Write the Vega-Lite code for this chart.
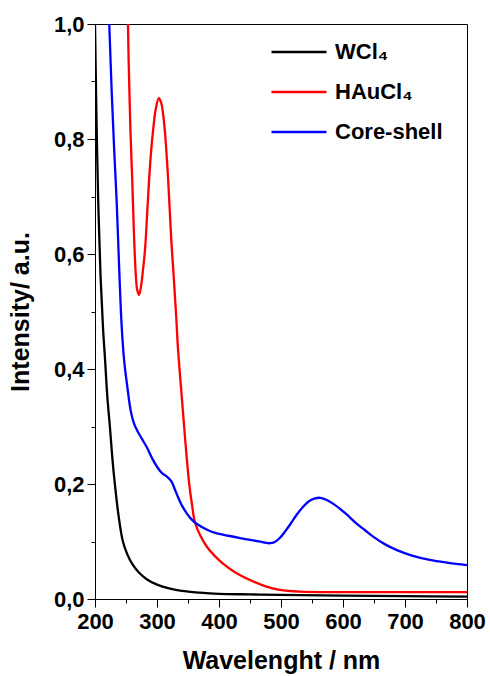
{
  "$schema": "https://vega.github.io/schema/vega-lite/v6.json",
  "width": 372,
  "height": 575,
  "autosize": {"type": "none"},
  "padding": {"left": 95, "top": 24, "right": 23, "bottom": 77},
  "background": "white",
  "config": {
    "view": {"stroke": "#000", "strokeWidth": 1},
    "font": "Liberation Sans",
    "axis": {
      "domainColor": "#000", "domainWidth": 1, "tickColor": "#000", "tickWidth": 1,
      "labelFont": "Liberation Sans", "labelFontWeight": "bold", "labelFontSize": 22, "labelColor": "#000",
      "titleFont": "Liberation Sans", "titleFontWeight": "bold", "titleFontSize": 25, "titleColor": "#000",
      "grid": false, "labelOverlap": false, "labelFlush": false, "labelBound": false
    }
  },
  "data": {"values": [
    {"w": 198, "v": 1.12, "s": "WCl₄"}, {"w": 200, "v": 1.0, "s": "WCl₄"}, {"w": 202, "v": 0.86, "s": "WCl₄"},
    {"w": 205, "v": 0.70, "s": "WCl₄"}, {"w": 209, "v": 0.56, "s": "WCl₄"}, {"w": 213, "v": 0.47, "s": "WCl₄"},
    {"w": 216, "v": 0.42, "s": "WCl₄"}, {"w": 220, "v": 0.35, "s": "WCl₄"}, {"w": 224, "v": 0.30, "s": "WCl₄"},
    {"w": 228, "v": 0.245, "s": "WCl₄"}, {"w": 232, "v": 0.20, "s": "WCl₄"}, {"w": 238, "v": 0.145, "s": "WCl₄"},
    {"w": 245, "v": 0.10, "s": "WCl₄"}, {"w": 252, "v": 0.078, "s": "WCl₄"}, {"w": 260, "v": 0.061, "s": "WCl₄"},
    {"w": 270, "v": 0.047, "s": "WCl₄"}, {"w": 284, "v": 0.034, "s": "WCl₄"}, {"w": 300, "v": 0.025, "s": "WCl₄"},
    {"w": 321, "v": 0.018, "s": "WCl₄"}, {"w": 340, "v": 0.014, "s": "WCl₄"}, {"w": 369, "v": 0.011, "s": "WCl₄"},
    {"w": 400, "v": 0.009, "s": "WCl₄"}, {"w": 450, "v": 0.008, "s": "WCl₄"}, {"w": 500, "v": 0.007, "s": "WCl₄"},
    {"w": 600, "v": 0.006, "s": "WCl₄"}, {"w": 700, "v": 0.005, "s": "WCl₄"}, {"w": 800, "v": 0.004, "s": "WCl₄"},

    {"w": 248, "v": 1.5, "s": "HAuCl₄"}, {"w": 252, "v": 1.1, "s": "HAuCl₄"}, {"w": 254, "v": 0.95, "s": "HAuCl₄"},
    {"w": 257, "v": 0.82, "s": "HAuCl₄"}, {"w": 260, "v": 0.73, "s": "HAuCl₄"}, {"w": 263, "v": 0.63, "s": "HAuCl₄"},
    {"w": 266, "v": 0.56, "s": "HAuCl₄"}, {"w": 268, "v": 0.538, "s": "HAuCl₄"}, {"w": 271, "v": 0.529, "s": "HAuCl₄"},
    {"w": 274, "v": 0.542, "s": "HAuCl₄"}, {"w": 277, "v": 0.568, "s": "HAuCl₄"}, {"w": 281, "v": 0.612, "s": "HAuCl₄"},
    {"w": 284, "v": 0.668, "s": "HAuCl₄"}, {"w": 287, "v": 0.725, "s": "HAuCl₄"}, {"w": 291, "v": 0.785, "s": "HAuCl₄"},
    {"w": 294, "v": 0.818, "s": "HAuCl₄"}, {"w": 298, "v": 0.852, "s": "HAuCl₄"}, {"w": 303, "v": 0.871, "s": "HAuCl₄"},
    {"w": 307, "v": 0.862, "s": "HAuCl₄"}, {"w": 310, "v": 0.842, "s": "HAuCl₄"}, {"w": 313, "v": 0.81, "s": "HAuCl₄"},
    {"w": 318, "v": 0.729, "s": "HAuCl₄"}, {"w": 323, "v": 0.625, "s": "HAuCl₄"}, {"w": 327, "v": 0.56, "s": "HAuCl₄"},
    {"w": 331, "v": 0.49, "s": "HAuCl₄"}, {"w": 334, "v": 0.433, "s": "HAuCl₄"}, {"w": 340, "v": 0.351, "s": "HAuCl₄"},
    {"w": 346, "v": 0.27, "s": "HAuCl₄"}, {"w": 352, "v": 0.20, "s": "HAuCl₄"}, {"w": 357, "v": 0.16, "s": "HAuCl₄"},
    {"w": 361, "v": 0.134, "s": "HAuCl₄"}, {"w": 370, "v": 0.11, "s": "HAuCl₄"}, {"w": 381, "v": 0.09, "s": "HAuCl₄"},
    {"w": 393, "v": 0.075, "s": "HAuCl₄"}, {"w": 406, "v": 0.062, "s": "HAuCl₄"}, {"w": 425, "v": 0.047, "s": "HAuCl₄"},
    {"w": 450, "v": 0.033, "s": "HAuCl₄"}, {"w": 475, "v": 0.022, "s": "HAuCl₄"}, {"w": 498, "v": 0.016, "s": "HAuCl₄"},
    {"w": 530, "v": 0.013, "s": "HAuCl₄"}, {"w": 600, "v": 0.012, "s": "HAuCl₄"}, {"w": 700, "v": 0.012, "s": "HAuCl₄"},
    {"w": 800, "v": 0.012, "s": "HAuCl₄"},

    {"w": 215, "v": 1.25, "s": "Core-shell"}, {"w": 220, "v": 1.08, "s": "Core-shell"}, {"w": 223, "v": 1.0, "s": "Core-shell"},
    {"w": 227, "v": 0.88, "s": "Core-shell"}, {"w": 231, "v": 0.78, "s": "Core-shell"}, {"w": 235, "v": 0.69, "s": "Core-shell"},
    {"w": 239, "v": 0.575, "s": "Core-shell"}, {"w": 243, "v": 0.475, "s": "Core-shell"}, {"w": 247, "v": 0.415, "s": "Core-shell"},
    {"w": 252, "v": 0.37, "s": "Core-shell"}, {"w": 258, "v": 0.325, "s": "Core-shell"}, {"w": 263, "v": 0.305, "s": "Core-shell"},
    {"w": 268, "v": 0.293, "s": "Core-shell"}, {"w": 276, "v": 0.278, "s": "Core-shell"}, {"w": 284, "v": 0.263, "s": "Core-shell"},
    {"w": 292, "v": 0.245, "s": "Core-shell"}, {"w": 300, "v": 0.23, "s": "Core-shell"}, {"w": 308, "v": 0.219, "s": "Core-shell"},
    {"w": 316, "v": 0.213, "s": "Core-shell"}, {"w": 323, "v": 0.205, "s": "Core-shell"}, {"w": 329, "v": 0.19, "s": "Core-shell"},
    {"w": 334, "v": 0.177, "s": "Core-shell"}, {"w": 341, "v": 0.161, "s": "Core-shell"}, {"w": 348, "v": 0.149, "s": "Core-shell"},
    {"w": 356, "v": 0.138, "s": "Core-shell"}, {"w": 365, "v": 0.13, "s": "Core-shell"}, {"w": 380, "v": 0.121, "s": "Core-shell"},
    {"w": 394, "v": 0.115, "s": "Core-shell"}, {"w": 415, "v": 0.11, "s": "Core-shell"}, {"w": 434, "v": 0.106, "s": "Core-shell"},
    {"w": 455, "v": 0.102, "s": "Core-shell"}, {"w": 470, "v": 0.099, "s": "Core-shell"}, {"w": 482, "v": 0.097, "s": "Core-shell"},
    {"w": 490, "v": 0.099, "s": "Core-shell"}, {"w": 498, "v": 0.106, "s": "Core-shell"}, {"w": 507, "v": 0.118, "s": "Core-shell"},
    {"w": 515, "v": 0.13, "s": "Core-shell"}, {"w": 525, "v": 0.146, "s": "Core-shell"}, {"w": 536, "v": 0.161, "s": "Core-shell"},
    {"w": 545, "v": 0.17, "s": "Core-shell"}, {"w": 555, "v": 0.175, "s": "Core-shell"}, {"w": 563, "v": 0.176, "s": "Core-shell"},
    {"w": 572, "v": 0.173, "s": "Core-shell"}, {"w": 585, "v": 0.165, "s": "Core-shell"}, {"w": 595, "v": 0.157, "s": "Core-shell"},
    {"w": 606, "v": 0.147, "s": "Core-shell"}, {"w": 620, "v": 0.133, "s": "Core-shell"}, {"w": 635, "v": 0.12, "s": "Core-shell"},
    {"w": 648, "v": 0.109, "s": "Core-shell"}, {"w": 668, "v": 0.095, "s": "Core-shell"}, {"w": 687, "v": 0.085, "s": "Core-shell"},
    {"w": 710, "v": 0.076, "s": "Core-shell"}, {"w": 740, "v": 0.068, "s": "Core-shell"}, {"w": 770, "v": 0.063, "s": "Core-shell"},
    {"w": 800, "v": 0.059, "s": "Core-shell"}
  ]},
  "mark": {"type": "line", "strokeWidth": 2.3, "clip": true, "interpolate": "catmull-rom"},
  "encoding": {
    "x": {
      "field": "w", "type": "quantitative",
      "scale": {"domain": [200, 800], "nice": false, "zero": false},
      "axis": {
        "title": "Wavelenght / nm",
        "values": [200, 250, 300, 350, 400, 450, 500, 550, 600, 650, 700, 750, 800],
        "labelExpr": "datum.value % 100 == 0 ? datum.label : ''",
        "tickSize": {"condition": {"test": "datum.value % 100 == 0", "value": 8}, "value": 4},
        "labelPadding": 4,
        "titlePadding": 16
      }
    },
    "y": {
      "field": "v", "type": "quantitative",
      "scale": {"domain": [0, 1], "nice": false},
      "axis": {
        "title": "Intensity/ a.u.",
        "values": [0, 0.1, 0.2, 0.3, 0.4, 0.5, 0.6, 0.7, 0.8, 0.9, 1.0],
        "labelExpr": "round(datum.value * 10) % 2 == 0 ? replace(format(datum.value, '.1f'), '.', ',') : ''",
        "tickSize": {"condition": {"test": "round(datum.value * 10) % 2 == 0", "value": 8}, "value": 4},
        "labelPadding": 3,
        "titlePadding": 20
      }
    },
    "color": {
      "field": "s", "type": "nominal", "sort": null,
      "scale": {"domain": ["WCl₄", "HAuCl₄", "Core-shell"], "range": ["#000000", "#ff0000", "#0000ff"]},
      "legend": {
        "title": null, "orient": "none", "legendX": 175, "legendY": -1,
        "symbolType": "stroke", "symbolSize": 3025, "symbolStrokeWidth": 2.5,
        "labelFont": "Liberation Sans", "labelFontWeight": "bold", "labelFontSize": 22, "labelColor": "#000",
        "labelOffset": 7, "rowPadding": -16
      }
    }
  }
}
